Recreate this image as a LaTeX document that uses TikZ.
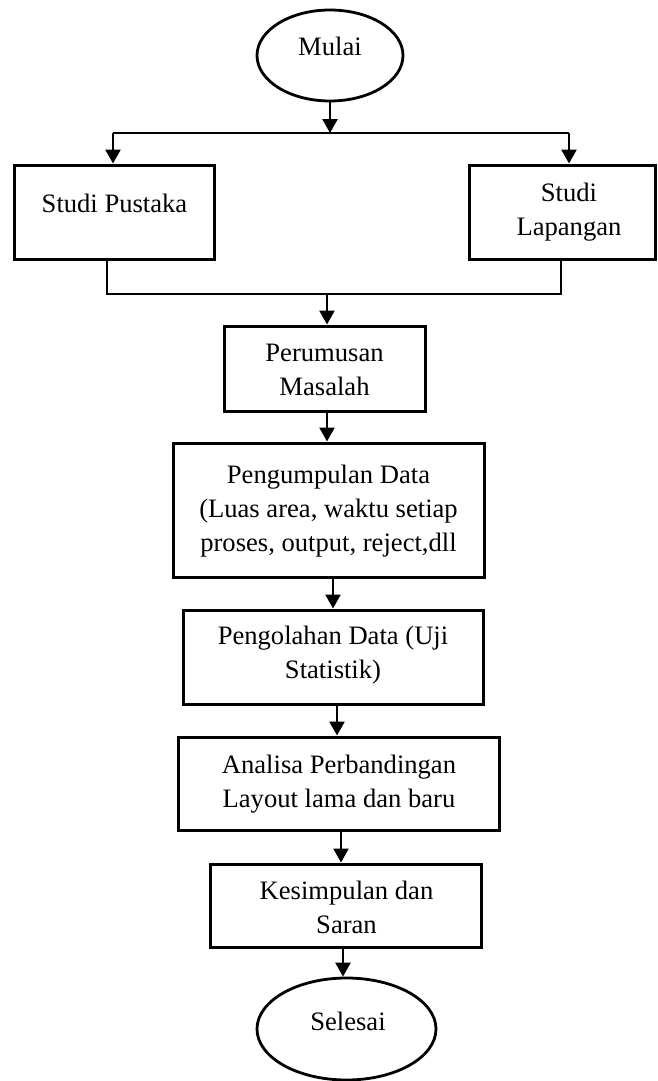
\documentclass[tikz,border=0pt]{standalone}
\usepackage{fontspec}
\setmainfont{Liberation Serif}
\usetikzlibrary{arrows.meta,shapes.geometric}
\begin{document}
\begin{tikzpicture}[x=1pt,y=-1pt,
  box/.style={draw,line width=3pt,minimum width=#1,inner sep=0pt},
  oval/.style={draw,ellipse,line width=2.8pt,inner sep=0pt},
  txt/.style={font=\fontsize{26.6}{34}\selectfont,align=center,inner sep=0pt,anchor=base},
  arr/.style={line width=2.6pt,-{Triangle[length=14pt,width=15pt]}},
  thin/.style={line width=1.4pt}]
\useasboundingbox (0,0) rectangle (657,1081);
% shapes
\node[oval,minimum width=146pt,minimum height=91pt] (mulai) at (330,55.5) {};
\node[box=200pt,minimum height=94pt] (sp) at (114,212) {};
\node[box=186pt,minimum height=94pt] (sl) at (562,212) {};
\node[box=201pt,minimum height=85pt] (per) at (324.5,368.5) {};
\node[box=311pt,minimum height=134pt] (pgd) at (328.5,510) {};
\node[box=300pt,minimum height=94pt] (pol) at (333,657) {};
\node[box=321pt,minimum height=93pt] (ana) at (338.5,783.5) {};
\node[box=271pt,minimum height=83pt] (kes) at (345.5,905.5) {};
\node[oval,minimum width=179pt,minimum height=102pt] (sel) at (346.5,1029) {};
% texts (anchor = baseline of the last line)
\node[txt] (tmulai) at (330,56) {Mulai};
\node[txt] (tsp) at (114.5,212) {Studi Pustaka};
\node[txt] (tsl) at (569,235) {Studi\\Lapangan};
\node[txt] (tper) at (324.5,395) {Perumusan\\Masalah};
\node[txt] (tpgd) at (328.5,551) {Pengumpulan Data\\(Luas area, waktu setiap\\proses, output, reject,dll};
\node[txt] (tpol) at (333,678) {Pengolahan Data (Uji\\Statistik)};
\node[txt] (tana) at (339,807) {Analisa Perbandingan\\Layout lama dan baru};
\node[txt] (tkes) at (346.5,933) {Kesimpulan dan\\Saran};
\node[txt] (tsel) at (348,1030) {Selesai};
% connectors
\coordinate (split) at (330,133);
\coordinate (join) at (327,294);
\draw[arr] (mulai.south) -- (split);
\draw[thin] (113,133) -- (569,133);
\draw[arr] (split -| 113,0) -- (sp.north -| 113,0);
\draw[arr] (split -| 569,0) -- (sl.north -| 569,0);
\draw[thin] (sp.south -| 107,0) -- (join -| 107,0) -- (join -| 561,0) -- (sl.south -| 561,0);
\draw[arr] (join) -- (per.north -| join);
\draw[arr] (per.south -| 327,0) -- (pgd.north -| 327,0);
\draw[arr] (pgd.south -| 333,0) -- (pol.north -| 333,0);
\draw[arr] (pol.south -| 337,0) -- (ana.north -| 337,0);
\draw[arr] (ana.south -| 341,0) -- (kes.north -| 341,0);
\draw[arr] (kes.south -| 343,0) -- (sel.north -| 343,0);
\end{tikzpicture}
\end{document}
